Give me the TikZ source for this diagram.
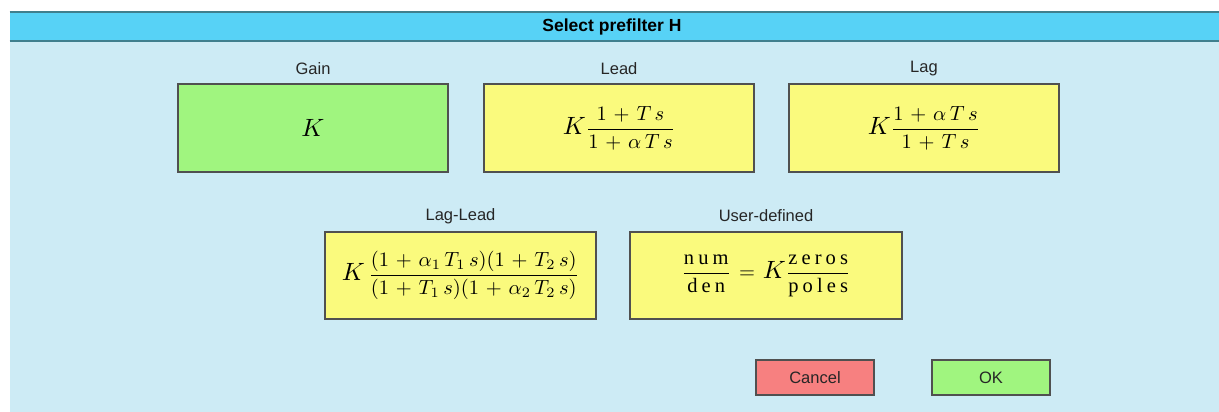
\documentclass[tikz,border=0pt]{standalone}
\usepackage{amsmath}
\usepackage{fontspec}
\setmainfont{Liberation Sans}
\newfontfamily\serifw[LetterSpace=20]{Liberation Serif}
\definecolor{bgblue}{HTML}{CDEBF5}
\definecolor{titleblue}{HTML}{57D2F6}
\definecolor{titleline}{HTML}{3F7F8E}
\definecolor{gaingreen}{HTML}{A0F57F}
\definecolor{boxyellow}{HTML}{FAFA7D}
\definecolor{cancelred}{HTML}{F78080}
\definecolor{edgegray}{HTML}{505050}
\newcommand{\bigK}{\scalebox{1.22}{$K$}}
\newcommand{\formula}[1]{\scalebox{2.05}{\fontsize{10}{12}\selectfont\medmuskip=6mu\thickmuskip=7mu$\displaystyle #1$}}
\newcommand{\wtxt}[1]{\mbox{\serifw #1}}
\tikzset{
  choice/.style={draw=edgegray, line width=1.3pt, minimum width=270pt, minimum height=88pt, inner sep=0pt},
  btn/.style={draw=edgegray, line width=1.3pt, minimum width=118pt, minimum height=35pt, inner sep=0pt, font=\fontsize{16.5}{18}\selectfont, text=black!85},
  lbl/.style={font=\fontsize{16.5}{18}\selectfont, text=black!85, inner sep=0pt},
}
\begin{document}
\begin{tikzpicture}[x=1pt,y=-1pt]
\useasboundingbox (0,0) rectangle (1219,412);
\fill[bgblue] (9.5,11) rectangle (1219,412);
\fill[titleblue] (9.5,11) rectangle (1219,42);
\draw[titleline, line width=1.6pt] (9.5,12) -- (1219,12);
\draw[titleline, line width=1.6pt] (9.5,41) -- (1219,41);
\node[font=\bfseries\fontsize{17.5}{19}\selectfont, inner sep=0pt] (title) at (612,26.5) {Select prefilter H};

\node[choice, fill=gaingreen] (gain) at (313,128) {\formula{\bigK}};
\node[choice, fill=boxyellow] (lead) at (619,128) {\formula{\bigK\frac{1+T\,s}{1+\alpha\,T\,s}}};
\node[choice, fill=boxyellow] (lag) at (924,128) {\formula{\bigK\frac{1+\alpha\,T\,s}{1+T\,s}}};
\node[choice, minimum width=271pt, minimum height=87pt, fill=boxyellow] (laglead) at (460.5,275.5)
  {\formula{\bigK\,\frac{(1+\alpha_1\,T_1\,s)(1+T_2\,s)}{(1+T_1\,s)(1+\alpha_2\,T_2\,s)}}};
\node[choice, minimum width=272pt, minimum height=87pt, fill=boxyellow] (user) at (766,275.5)
  {\formula{\frac{\wtxt{num}}{\wtxt{den}}=\bigK\frac{\wtxt{zeros}}{\wtxt{poles}}}};

\node[lbl] (gainlbl) at (313,69) {Gain};
\node[lbl] (leadlbl) at (619,69) {Lead};
\node[lbl] (laglbl) at (924,69) {Lag};
\node[lbl] (lagleadlbl) at (460.5,216) {Lag-Lead};
\node[lbl] (userlbl) at (766,216) {User-defined};

\node[btn, fill=cancelred] (cancel) at (815,377.5) {Cancel};
\node[btn, fill=gaingreen] (ok) at (991,377.5) {OK};
\end{tikzpicture}
\end{document}
